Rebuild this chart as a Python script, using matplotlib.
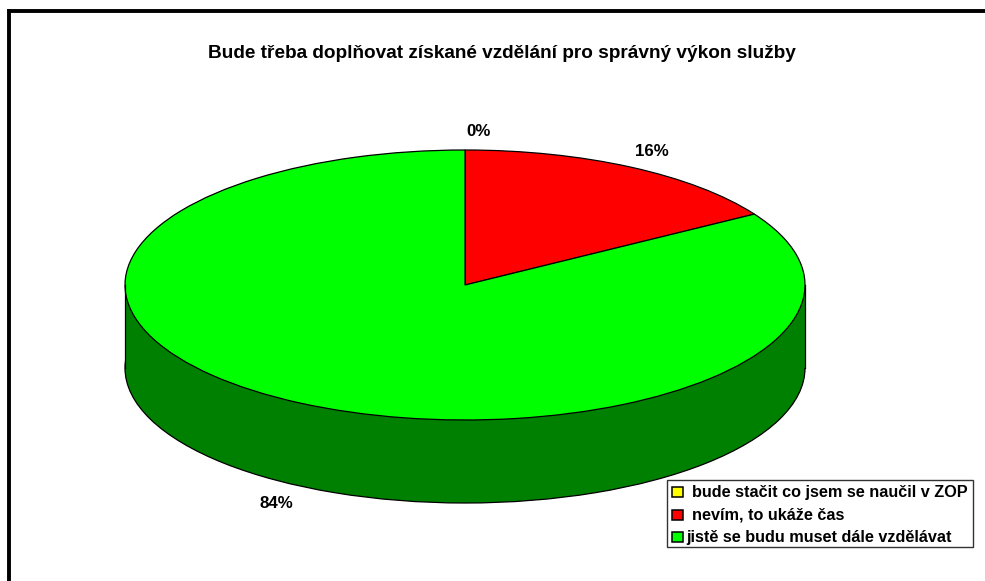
import matplotlib
matplotlib.use("Agg")
import matplotlib.pyplot as plt
from matplotlib.patches import Rectangle

W, H = 985, 581
categories = ["bude stačit co jsem se naučil v ZOP", "nevím, to ukáže čas", "jistě se budu muset dále vzdělávat"]
values = [0, 16.2, 83.8]
colors = ["#FFFF00", "#FF0000", "#00FF00"]
side_color = "#008000"
title = "Bude třeba doplňovat získané vzdělání pro správný výkon služby"
label_px = [(479, 131), (652, 152), (276, 504)]

plt.rcParams["font.family"] = ["Liberation Sans", "DejaVu Sans"]
plt.rcParams["font.weight"] = "bold"

fig = plt.figure(figsize=(W / 100, H / 100), dpi=100, facecolor="white")

def fx(x): return x / W
def fy(y): return 1 - y / H

# Pie ellipse: x 125..805, y 150..420; depth to 503
depth = 83 / 135
ax = fig.add_axes([fx(125), fy(503), 680 / W, 353 / H])
edge = dict(edgecolor="black", linewidth=0.9, clip_on=False)
ax.pie([sum(values)], colors=[side_color], center=(0, -depth), radius=1, startangle=90,
       wedgeprops=edge)
ax.add_patch(Rectangle((-1, -depth), 2, depth, facecolor=side_color, edgecolor="none", clip_on=False))
ax.plot([-1, -1], [-depth, 0], color="black", lw=0.9, clip_on=False)
ax.plot([1, 1], [-depth, 0], color="black", lw=0.9, clip_on=False)
ax.pie(values, colors=colors, startangle=90, counterclock=False, radius=1, wedgeprops=edge)
ax.set_aspect("auto")
ax.set_xlim(-1, 1)
ax.set_ylim(-1 - depth, 1)
ax.axis("off")

fig.text(fx(502), fy(53), title, ha="center", va="center", fontsize=13.65, fontweight="bold", color="black")
for v, (x, y) in zip(values, label_px):
    fig.text(fx(x), fy(y), f"{v:.0f}%", ha="center", va="center", fontsize=12.2, fontweight="bold", color="black")

# Outer frame (top and left only)
fig.add_artist(plt.Line2D([fx(9), fx(9)], [0, fy(10.5)], color="black", lw=2.8, solid_capstyle="projecting"))
fig.add_artist(plt.Line2D([fx(9), 1], [fy(10.5), fy(10.5)], color="black", lw=2.8, solid_capstyle="projecting"))

# Legend
fig.add_artist(Rectangle((fx(667), fy(547)), 306 / W, 67 / H, transform=fig.transFigure,
                         facecolor="white", edgecolor="#333333", lw=1.0))
rows_y = [492, 514.5, 537]
text_x = [692, 692, 686]
for cat, col, y, tx in zip(categories, colors, rows_y, text_x):
    fig.add_artist(Rectangle((fx(672), fy(y + 5)), 11 / W, 10 / H, transform=fig.transFigure,
                             facecolor=col, edgecolor="black", lw=1.1))
    fig.text(fx(tx), fy(y + 0.5), cat, ha="left", va="center", fontsize=11.7, fontweight="bold", color="black")

fig.savefig("out.png", dpi=100)
